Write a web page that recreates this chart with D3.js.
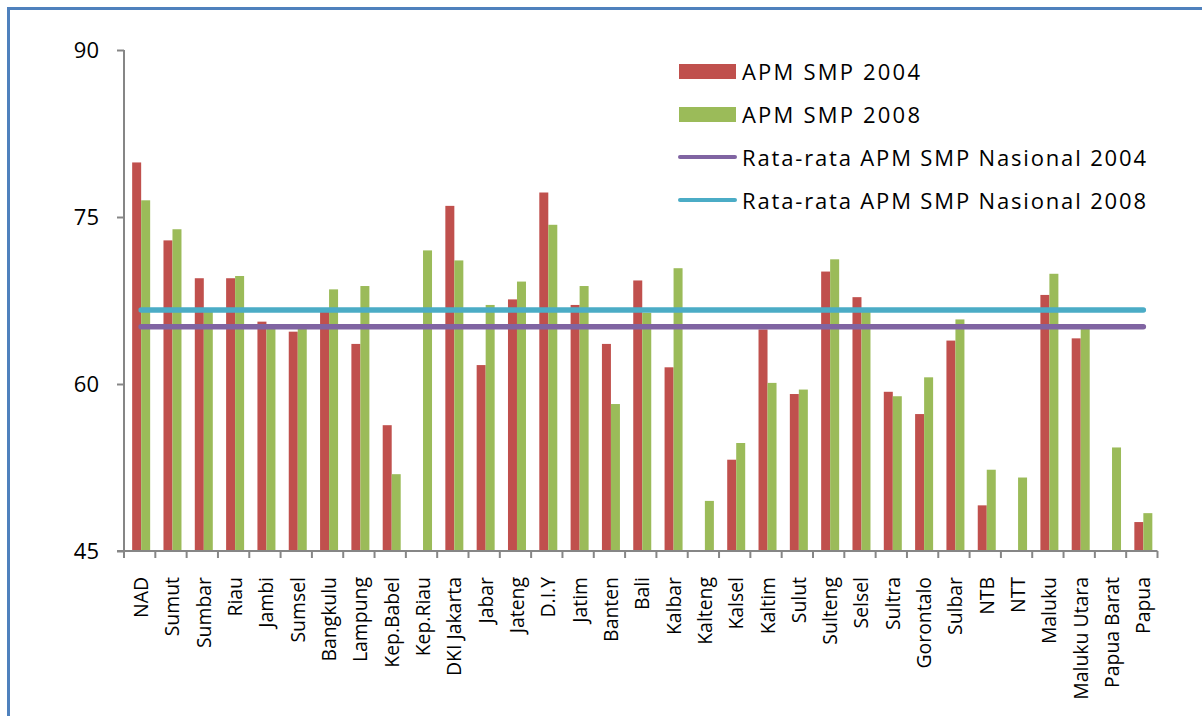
<!DOCTYPE html>
<html>
<head>
<meta charset="utf-8">
<script src="https://cdn.jsdelivr.net/npm/d3@7"></script>
<style>
  html, body { margin: 0; padding: 0; background: #ffffff; }
  svg { display: block; }
  text { font-family: "Open Sans", "DejaVu Sans", sans-serif; fill: #000; }
</style>
</head>
<body>
<svg id="chart" width="1202" height="716"></svg>
<script>
const categories = ["NAD","Sumut","Sumbar","Riau","Jambi","Sumsel","Bangkulu","Lampung","Kep.Babel","Kep.Riau",
  "DKI Jakarta","Jabar","Jateng","D.I.Y","Jatim","Banten","Bali","Kalbar","Kalteng","Kalsel",
  "Kaltim","Sulut","Sulteng","Selsel","Sultra","Gorontalo","Sulbar","NTB","NTT","Maluku",
  "Maluku Utara","Papua Barat","Papua"];
const apm2004 = [79.9,72.9,69.5,69.5,65.6,64.7,66.5,63.6,56.3,null,
  76.0,61.7,67.6,77.2,67.1,63.6,69.3,61.5,null,53.2,
  64.9,59.1,70.1,67.8,59.3,57.3,63.9,49.1,null,68.0,
  64.1,null,47.6];
const apm2008 = [76.5,73.9,66.7,69.7,65.1,65.0,68.5,68.8,51.9,72.0,
  71.1,67.1,69.2,74.3,68.8,58.2,66.4,70.4,49.5,54.7,
  60.1,59.5,71.2,66.5,58.9,60.6,65.8,52.3,51.6,69.9,
  65.0,54.3,48.4];
const avg2004 = 65.15;
const avg2008 = 66.65;
const yTicks = [45, 60, 75, 90];
const seriesNames = ["APM SMP 2004","APM SMP 2008","Rata-rata APM SMP Nasional 2004","Rata-rata APM SMP Nasional 2008"];
const colors = ["#c0504d","#9bbb59","#8064a2","#4bacc6"];

const svg = d3.select("#chart");

// outer frame (extends past the right/bottom edge)
svg.append("rect").attr("x", 8.5).attr("y", 8.5).attr("width", 1400).attr("height", 900)
  .attr("fill", "none").attr("stroke", "#4f81bd").attr("stroke-width", 3);

const plotLeft = 124, plotRight = 1157.5, plotTop = 50, plotBottom = 551;
const y = d3.scaleLinear().domain([45, 90]).range([plotBottom, plotTop]);
const x0 = d3.scaleBand().domain(categories).range([plotLeft, plotRight]).padding(0);
const groupW = 18;
const x1 = d3.scaleBand().domain(["2004","2008"]).range([0, groupW]).padding(0);
const shift = 1.5;
const groupOffset = (x0.bandwidth() - groupW) / 2 + shift;

const data = categories.map((c, i) => ({cat: c, v: [apm2004[i], apm2008[i]]}));

// bars
const g = svg.append("g");
data.forEach(d => {
  ["2004","2008"].forEach((s, k) => {
    const v = d.v[k];
    if (v == null) return;
    g.append("rect")
      .attr("x", x0(d.cat) + groupOffset + x1(s))
      .attr("y", y(v))
      .attr("width", x1.bandwidth())
      .attr("height", y(45) - y(v))
      .attr("fill", colors[k]);
  });
});

// axes
const axisColor = "#868686";
const yAxis = d3.axisLeft(y).tickValues(yTicks).tickSize(7).tickFormat("");
const yg = svg.append("g").attr("transform", `translate(${plotLeft},0)`).call(yAxis);
yg.select(".domain").attr("stroke", axisColor).attr("stroke-width", 2).attr("d", `M0,${plotTop}V${plotBottom}`);
yg.selectAll(".tick line").attr("stroke", axisColor).attr("stroke-width", 2);

svg.append("g").selectAll("text").data(yTicks).join("text")
  .attr("x", 99).attr("y", d => y(d)).attr("dy", "0.36em")
  .attr("text-anchor", "end").attr("font-size", 22).text(d => d);

// x axis line & ticks at category boundaries
const boundaries = categories.map(c => x0(c)).concat([plotRight]);
svg.append("line").attr("x1", plotLeft - 7).attr("x2", plotRight).attr("y1", plotBottom).attr("y2", plotBottom)
  .attr("stroke", axisColor).attr("stroke-width", 2);
svg.append("g").selectAll("line").data(boundaries).join("line")
  .attr("x1", d => d).attr("x2", d => d).attr("y1", plotBottom).attr("y2", plotBottom + 7)
  .attr("stroke", axisColor).attr("stroke-width", 2);

// x labels
svg.append("g").selectAll("text").data(categories).join("text")
  .attr("transform", d => `translate(${x0(d) + x0.bandwidth() / 2 + shift},577) rotate(-90)`)
  .attr("text-anchor", "end").attr("dy", "0.36em").attr("font-size", 19.4).text(d => d);

// average lines
const lineX1 = x0(categories[0]) + x0.bandwidth() / 2 + shift;
const lineX2 = x0(categories[categories.length - 1]) + x0.bandwidth() / 2 + shift;
[[avg2004, colors[2]], [avg2008, colors[3]]].forEach(([v, c]) => {
  svg.append("line").attr("x1", lineX1).attr("x2", lineX2).attr("y1", y(v)).attr("y2", y(v))
    .attr("stroke", c).attr("stroke-width", 5.5).attr("stroke-linecap", "round");
});

// legend
const legend = svg.append("g");
const legY = [71.5, 114.5, 157, 200];
const legTextLen = [178, 178, 404, 404];
seriesNames.forEach((name, i) => {
  if (i < 2) {
    legend.append("rect").attr("x", 679).attr("y", legY[i] - 7.5).attr("width", 57).attr("height", 15).attr("fill", colors[i]);
  } else {
    legend.append("line").attr("x1", 680).attr("x2", 735).attr("y1", legY[i]).attr("y2", legY[i])
      .attr("stroke", colors[i]).attr("stroke-width", 4).attr("stroke-linecap", "round");
  }
  legend.append("text").attr("x", 742).attr("y", legY[i] + 8.5).attr("font-size", 22)
    .attr("textLength", legTextLen[i]).attr("lengthAdjust", "spacing").text(name);
});
</script>
</body>
</html>
